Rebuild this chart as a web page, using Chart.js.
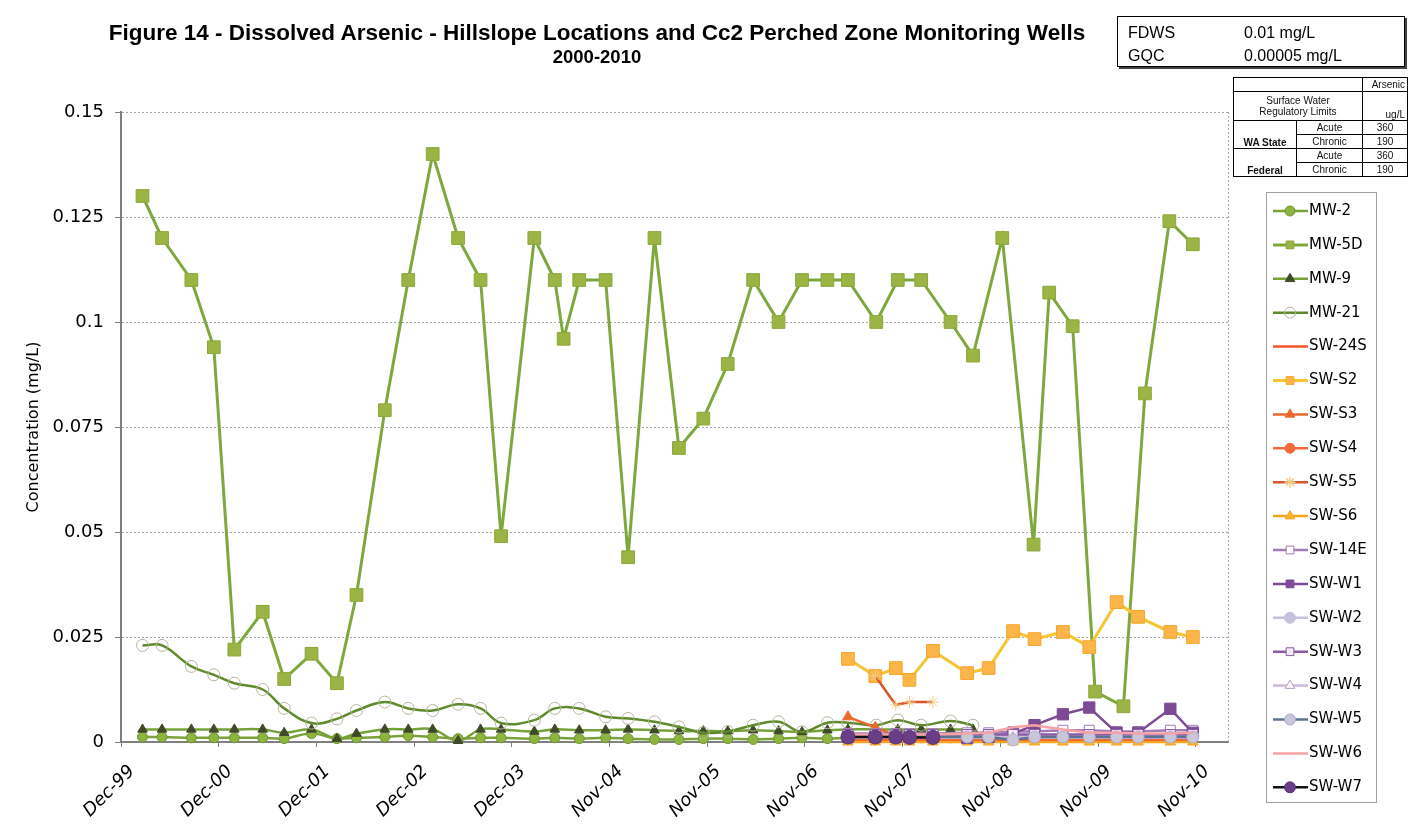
<!DOCTYPE html>
<html>
<head>
<meta charset="utf-8">
<title>Figure 14 - Dissolved Arsenic</title>
<script src="https://cdn.jsdelivr.net/npm/chart.js@4.4.0/dist/chart.umd.min.js"></script>
<style>
  body { margin: 0; background: #fff; }
  #wrap { position: relative; width: 1419px; height: 836px; overflow: hidden; font-family: "DejaVu Sans", sans-serif; }
  #chart { position: absolute; left: 0; top: 0; }
  #title { position: absolute; left: 0; top: 20px; width: 1194px; text-align: center; font-family: "Liberation Sans", Arial, sans-serif; font-weight: bold; color: #000; }
  #title .l1 { display: block; font-size: 22.5px; line-height: 26px; }
  #title .l2 { display: block; font-size: 18.5px; line-height: 22px; }
  #limits { position: absolute; left: 1117px; top: 16px; width: 286px; height: 49px; border: 1.5px solid #000; box-shadow: 2px 2px 0 #444; font-family: "Liberation Sans", Arial, sans-serif; font-size: 16px; }
  #limits span { position: absolute; line-height: 18px; }
  #reg { position: absolute; left: 1233px; top: 77px; border-collapse: collapse; font-family: "Liberation Sans", Arial, sans-serif; font-size: 10px; color: #111; }
  #reg td { border: 1px solid #000; padding: 0 2px; height: 13px; text-align: center; line-height: 11px; }
</style>
</head>
<body>
<div id="wrap">
  <canvas id="chart" width="1419" height="836"></canvas>
  <div id="title"><span class="l1">Figure 14 - Dissolved Arsenic - Hillslope Locations and Cc2 Perched Zone Monitoring Wells</span><span class="l2">2000-2010</span></div>
  <div id="limits">
    <span style="left:10px; top:7px">FDWS</span><span style="left:126px; top:7px">0.01 mg/L</span>
    <span style="left:10px; top:30px">GQC</span><span style="left:126px; top:30px">0.00005 mg/L</span>
  </div>
  <table id="reg">
    <tr><td colspan="2" style="width:124px"></td><td style="width:40px; text-align:right">Arsenic</td></tr>
    <tr><td colspan="2" style="height:28px">Surface Water<br>Regulatory Limits</td><td style="vertical-align:bottom; text-align:right">ug/L</td></tr>
    <tr><td rowspan="2" style="width:58px; vertical-align:bottom; font-weight:bold">WA State</td><td>Acute</td><td>360</td></tr>
    <tr><td>Chronic</td><td>190</td></tr>
    <tr><td rowspan="2" style="vertical-align:bottom; font-weight:bold">Federal</td><td>Acute</td><td>360</td></tr>
    <tr><td>Chronic</td><td>190</td></tr>
  </table>
</div>
<script>
// axis labels
const tickLabels = ['Dec-99', 'Dec-00', 'Dec-01', 'Dec-02', 'Dec-03', 'Nov-04', 'Nov-05', 'Nov-06', 'Nov-07', 'Nov-08', 'Nov-09', 'Nov-10'];
const yTickLabels = ['0', '0.025', '0.05', '0.075', '0.1', '0.125', '0.15'];
const firstTick = 1999.92; // Dec-99, ticks every 365 days

// monitoring well sample dates (decimal years)
const mwDates = [2000.14, 2000.34, 2000.64, 2000.87, 2001.08, 2001.37, 2001.59, 2001.87, 2002.13, 2002.33,
  2002.62, 2002.86, 2003.11, 2003.37, 2003.60, 2003.81, 2004.15, 2004.36, 2004.45, 2004.61,
  2004.88, 2005.11, 2005.38, 2005.63, 2005.88, 2006.13, 2006.39, 2006.65, 2006.89, 2007.15,
  2007.36, 2007.65, 2007.87, 2008.11, 2008.41, 2008.64, 2008.94, 2009.26, 2009.42, 2009.66,
  2009.89, 2010.18, 2010.40, 2010.65, 2010.89];
const mw2 = [0.0012, 0.0012, 0.001, 0.001, 0.001, 0.001, 0.0008, 0.002, 0.0008, 0.001,
  0.0012, 0.0015, 0.0012, 0.0008, 0.001, 0.001, 0.0008, 0.001, null, 0.0008,
  0.001, 0.0008, 0.0006, 0.0006, 0.0008, 0.0008, 0.0006, 0.0008, 0.001, 0.0008,
  0.001, 0.001, 0.0012, 0.001, 0.001, 0.001];
const mw5d = [0.13, 0.12, 0.11, 0.094, 0.022, 0.031, 0.015, 0.021, 0.014, 0.035,
  0.079, 0.11, 0.14, 0.12, 0.11, 0.049, 0.12, 0.11, 0.096, 0.11,
  0.11, 0.044, 0.12, 0.07, 0.077, 0.09, 0.11, 0.1, 0.11, 0.11,
  0.11, 0.1, 0.11, 0.11, 0.1, 0.092, 0.12, 0.047, 0.107, 0.099,
  0.012, 0.0085, 0.083, 0.124, 0.1185];
const mw9 = [0.003, 0.003, 0.003, 0.003, 0.003, 0.003, 0.0022, 0.003, 0.0008, 0.002,
  0.003, 0.003, 0.003, 0.0003, 0.003, 0.003, 0.0025, 0.003, null, 0.0028,
  0.0028, 0.003, 0.0028, 0.0026, 0.0026, 0.0026, 0.0028, 0.0026, 0.0024, 0.0028,
  0.003, 0.003, 0.003, 0.003, 0.003, 0.003];
const mw21 = [0.023, 0.023, 0.018, 0.016, 0.014, 0.0125, 0.008, 0.0045, 0.0055, 0.0075,
  0.0095, 0.008, 0.0075, 0.009, 0.008, 0.0045, 0.0052, 0.008, null, 0.008,
  0.006, 0.0056, 0.0048, 0.0036, 0.0022, 0.0025, 0.004, 0.0048, 0.0024, 0.0046,
  0.0046, 0.004, 0.0052, 0.004, 0.005, 0.004];

// surface water sample dates (decimal years)
const swDates = [2007.36, 2007.64, 2007.85, 2007.99, 2008.23, 2008.58, 2008.80, 2009.05, 2009.27, 2009.56,
  2009.83, 2010.11, 2010.33, 2010.66, 2010.89];
const sw24s = [0.0005, 0.0005, 0.0005, 0.0005, 0.0005, 0.0005, 0.0005, 0.0006, 0.0005, 0.0005, 0.0005, 0.0005, 0.0005, 0.0005, 0.0005];
const swS2 = [0.0198, 0.0157, 0.0176, 0.0148, 0.0217, 0.0164, 0.0176, 0.0264, 0.0245, 0.0262, 0.0226, 0.0333, 0.0298, 0.0262, 0.025];
const swS3 = [0.006, 0.0035, 0.0015, 0.0012, 0.001, 0.001, 0.001, 0.0012, 0.001, 0.001, 0.001, 0.0008, 0.0008, 0.0008, 0.0008];
const swS4 = [0.0008, 0.0008, 0.0008, 0.0008, 0.0008, 0.0008, 0.0008, 0.0008, 0.0008, 0.0008, 0.0008, 0.0008, 0.0008, 0.0008, 0.0008];
const swS5 = [null, 0.0157, 0.0088, 0.0095, 0.0095];
const swS6 = [0, 0, 0, 0, 0, 0, 0, 0, 0, 0, 0, 0, 0, 0, 0];
const sw14e = [0.002, 0.002, 0.002, 0.002, 0.002, 0.0022, 0.0022, 0.0025, 0.0025, 0.0028, 0.0028, 0.0025, 0.0025, 0.0028, 0.0028];
const swW1 = [0.0012, 0.0012, 0.0012, 0.0012, 0.0012, 0.001, 0.0012, 0.002, 0.004, 0.0066, 0.0082, 0.0022, 0.0022, 0.0079, 0.0022];
const swW2 = [0.0015, 0.0015, 0.0015, 0.0015, 0.0015, 0.0015, 0.0015, 0.0012, 0.0015, 0.0015, 0.0015, 0.0015, 0.0015, 0.0015, 0.0015];
const swW3 = [0.0018, 0.0018, 0.0018, 0.0018, 0.0018, 0.0018, 0.0018, 0.0018, 0.0018, 0.0018, 0.0018, 0.0018, 0.0018, 0.0018, 0.0018];
const swW4 = [0.001, 0.001, 0.001, 0.001, 0.001, 0.001, 0.001, 0.001, 0.001, 0.001, 0.001, 0.001, 0.001, 0.001, 0.001];
const swW5 = [0.0012, 0.0012, 0.0012, 0.0012, 0.0012, 0.0012, 0.0012, 0.0005, 0.0012, 0.0012, 0.0012, 0.0012, 0.0012, 0.0012, 0.0012];
const swW6 = [0.0018, 0.0018, 0.0018, 0.0018, 0.0018, 0.002, 0.0022, 0.0035, 0.004, 0.003, 0.0022, 0.0022, 0.002, 0.002, 0.0022];
const swW7 = [0.0012, 0.0012, 0.0012, 0.0011, 0.0011];

function pts(dates, vals) {
  return vals.map((v, i) => ({ x: dates[i], y: v })).filter(p => p.y !== null);
}

// one Excel-like line series
function series(label, data, line, width, style, radius, fill, edge, tension) {
  return {
    label: label,
    data: data,
    borderColor: line,
    backgroundColor: line,
    borderWidth: width,
    pointStyle: style || 'circle',
    pointRadius: radius,
    pointBackgroundColor: fill,
    pointBorderColor: edge || fill,
    pointBorderWidth: 1,
    tension: tension || 0,
    clip: false
  };
}

const datasets = [
  series('MW-2', pts(mwDates, mw2), '#7AA23A', 2.5, 'circle', 5, '#8CB43F', '#6F962F', 0.4),
  series('MW-5D', pts(mwDates, mw5d), '#7FA83C', 3, 'rect', 9, '#9BB444', '#8BA83A'),
  series('MW-9', pts(mwDates, mw9), '#76A038', 2.5, 'triangle', 5.5, '#3E4A28', '#3E4A28', 0.4),
  series('MW-21', pts(mwDates, mw21), '#5E8A2C', 2.5, 'circle', 6, 'rgba(255,255,255,0)', '#B5B59B', 0.4),
  series('SW-24S', pts(swDates, sw24s), '#F0562A', 2.5, 'circle', 0, '#F0562A'),
  series('SW-S2', pts(swDates, swS2), '#F7C531', 3, 'rect', 9, '#FBB549', '#F6A52C'),
  series('SW-S3', pts(swDates, swS3), '#E8672C', 2.5, 'triangle', 6, '#EA6A2C'),
  series('SW-S4', pts(swDates, swS4), '#F26A3B', 2.5, 'circle', 5, '#F26A3B'),
  series('SW-S5', pts(swDates, swS5), '#D9552C', 2.5, 'star', 6, '#F3D08C', '#F3D08C'),
  series('SW-S6', pts(swDates, swS6), '#F4A522', 2.5, 'triangle', 6, '#F9B334', '#F4A522'),
  series('SW-14E', pts(swDates, sw14e), '#A27BB8', 2.5, 'rect', 7, '#FFFFFF', '#A27BB8'),
  series('SW-W1', pts(swDates, swW1), '#7D4B95', 2.5, 'rect', 8, '#7D4B95'),
  series('SW-W2', pts(swDates, swW2), '#C7C1D9', 2.5, 'circle', 6, '#C7C1D9'),
  series('SW-W3', pts(swDates, swW3), '#8B5AA6', 2.5, 'rect', 7, '#F2EDF5', '#8B5AA6'),
  series('SW-W4', pts(swDates, swW4), '#CDB8DA', 2.5, 'triangle', 6, '#FFFFFF', '#B49AC4'),
  series('SW-W5', pts(swDates, swW5), '#5E7390', 2.5, 'circle', 6, '#C9C6DA', '#B0ACC8'),
  series('SW-W6', pts(swDates, swW6), '#F5A3A3', 2.5, 'circle', 0, '#F5A3A3'),
  series('SW-W7', pts(swDates, swW7), '#111111', 2.5, 'circle', 7, '#6A3E86', '#5A3274')
];
// later series sit on top, as in Excel
datasets.forEach((ds, i) => { ds.order = -i; });

// dotted right edge of the plot area
const plotFrame = {
  id: 'plotFrame',
  beforeDatasetsDraw(chart) {
    const a = chart.chartArea, ctx = chart.ctx;
    ctx.save();
    ctx.strokeStyle = '#A6A6A6';
    ctx.lineWidth = 1;
    ctx.setLineDash([2, 2]);
    ctx.beginPath();
    ctx.moveTo(Math.round(a.right) + 0.5, a.top);
    ctx.lineTo(Math.round(a.right) + 0.5, a.bottom);
    ctx.stroke();
    ctx.restore();
  }
};

// boxed legend with line + marker samples
const boxLegend = {
  id: 'boxLegend',
  afterDraw(chart) {
    const ctx = chart.ctx;
    const drawMark = (Chart.helpers && Chart.helpers.drawPoint) || function (c, o, x, y) {
      c.beginPath(); c.arc(x, y, o.radius, 0, Math.PI * 2); c.fill(); c.stroke();
    };
    ctx.save();
    ctx.strokeStyle = '#A0A0A0';
    ctx.lineWidth = 1;
    ctx.strokeRect(1266.5, 192.5, 110, 610);
    chart.data.datasets.forEach((ds, i) => {
      const y = 211 + i * 33.9;
      ctx.setLineDash([]);
      ctx.strokeStyle = ds.borderColor;
      ctx.lineWidth = ds.borderWidth;
      ctx.beginPath();
      ctx.moveTo(1273, y);
      ctx.lineTo(1308, y);
      ctx.stroke();
      if (ds.pointRadius > 0) {
        ctx.fillStyle = ds.pointBackgroundColor;
        ctx.strokeStyle = ds.pointBorderColor;
        ctx.lineWidth = ds.pointStyle === 'star' ? 1.5 : 1;
        drawMark(ctx, { pointStyle: ds.pointStyle, radius: Math.min(ds.pointRadius, 5.5), borderWidth: 1, rotation: 0 }, 1290, y);
      }
      ctx.fillStyle = '#000';
      ctx.font = '15px "DejaVu Sans"';
      ctx.textBaseline = 'middle';
      ctx.textAlign = 'left';
      ctx.fillText(ds.label, 1309, y);
    });
    ctx.restore();
  }
};

new Chart(document.getElementById('chart'), {
  type: 'line',
  data: { datasets: datasets },
  plugins: [plotFrame, boxLegend],
  options: {
    responsive: false,
    animation: false,
    devicePixelRatio: 1,
    events: [],
    layout: { padding: { top: 112, right: 191, left: 0, bottom: 0 } },
    font: { family: '"DejaVu Sans"' },
    plugins: { legend: { display: false }, tooltip: { enabled: false } },
    scales: {
      x: {
        type: 'linear',
        min: firstTick,
        max: 2011.25,
        afterBuildTicks: (scale) => {
          scale.ticks = tickLabels.map((t, i) => ({ value: firstTick + i }));
        },
        afterFit: (scale) => { scale.height = 94; },
        grid: { drawOnChartArea: false, drawTicks: true, tickLength: 5, tickColor: '#808080' },
        border: { display: true, color: '#808080', width: 2 },
        ticks: {
          autoSkip: false,
          maxRotation: 45,
          minRotation: 45,
          padding: 14,
          labelOffset: 11,
          color: '#000',
          font: { family: '"DejaVu Sans"', size: 18, style: 'italic' },
          callback: (v, i) => tickLabels[i]
        }
      },
      y: {
        min: 0,
        max: 0.15,
        afterFit: (scale) => { scale.width = 121; },
        ticks: {
          stepSize: 0.025,
          padding: 11,
          color: '#000',
          font: { family: '"DejaVu Sans"', size: 18 },
          callback: (v, i) => yTickLabels[i]
        },
        grid: {
          color: '#A6A6A6',
          lineWidth: 1,
          tickLength: 6,
          tickColor: '#808080',
          tickBorderDash: []
        },
        border: { display: true, color: '#7F7F7F', width: 2, dash: [2, 2] },
        title: {
          display: true,
          text: 'Concentration (mg/L)',
          color: '#000',
          padding: { top: 24, bottom: 0 },
          font: { family: '"DejaVu Sans"', size: 16 }
        }
      }
    }
  }
});
</script>
</body>
</html>
